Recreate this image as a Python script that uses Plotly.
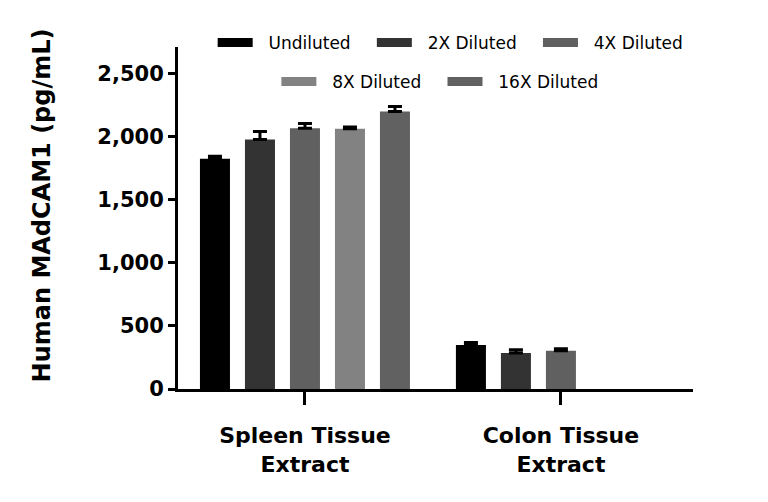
import plotly.graph_objects as go

categories = ["Spleen Tissue<br>Extract", "Colon Tissue<br>Extract"]
series_names = ["Undiluted", "2X Diluted", "4X Diluted", "8X Diluted", "16X Diluted"]
undiluted = [1825, 348]
dil_2x = [1978, 285]
dil_4x = [2067, 303]
dil_8x = [2062, None]
dil_16x = [2199, None]
err_undiluted = [20, 21]
err_2x = [63, 26]
err_4x = [37, 16]
err_8x = [15, None]
err_16x = [40, None]
y_ticks = [0, 500, 1000, 1500, 2000, 2500]
y_tick_labels = ["0", "500", "1,000", "1,500", "2,000", "2,500"]

values = [undiluted, dil_2x, dil_4x, dil_8x, dil_16x]
errors = [err_undiluted, err_2x, err_4x, err_8x, err_16x]
colors = ["#000000", "#333333", "#606060", "#828282", "#616161"]

fig = go.Figure()
for name, vals, errs, col in zip(series_names, values, errors, colors):
    fig.add_trace(go.Bar(
        x=categories, y=vals, name=name, marker=dict(color=col, line=dict(width=0)),
        showlegend=False,
        error_y=dict(type="data", array=[e if e is not None else 0 for e in errs],
                     arrayminus=[0, 0], symmetric=False, color="black", thickness=3, width=7),
    ))

# legend entries (thick line swatches)
pad = "&nbsp;&nbsp;"
for i, (name, col) in enumerate(zip(series_names, colors)):
    fig.add_trace(go.Scatter(
        x=[None], y=[None], mode="lines", name=pad + name + "&nbsp;&nbsp;&nbsp;",
        line=dict(color=col, width=9),
        legend="legend" if i < 3 else "legend2",
    ))

font_family = "DejaVu Sans"
legend_common = dict(orientation="h", xanchor="center", yanchor="middle",
                     font=dict(size=17, family=font_family, color="black"),
                     bgcolor="rgba(0,0,0,0)", traceorder="normal", itemwidth=35)
fig.update_layout(
    width=768, height=502,
    margin=dict(l=178, r=75, t=47, b=113),
    paper_bgcolor="white", plot_bgcolor="white",
    barmode="group", bargap=0.121, bargroupgap=0.333,
    font=dict(family=font_family, color="black"),
    legend=dict(x=0.545, y=1.012, **legend_common),
    legend2=dict(x=0.525, y=0.898, **legend_common),
)
fig.update_xaxes(
    range=[-0.496, 1.516], showline=True, linecolor="black", linewidth=3,
    ticks="outside", ticklen=13, tickwidth=3, tickcolor="black",
    tickfont=dict(size=22, family=font_family, color="black", weight="bold"),
    ticklabelstandoff=12,
    showgrid=False, zeroline=False,
)
fig.update_yaxes(
    range=[0, 2710], showline=True, linecolor="black", linewidth=3,
    tickmode="array", tickvals=y_ticks, ticktext=y_tick_labels,
    ticks="outside", ticklen=7, tickwidth=3, tickcolor="black",
    tickfont=dict(size=21, family=font_family, color="black", weight="bold"),
    title=dict(text="<b>&nbsp;&nbsp;&nbsp;Human MAdCAM1 (pg/mL)</b>", font=dict(size=24, family=font_family, color="black"), standoff=40),
    showgrid=False, zeroline=False,
)

fig.write_html("out.html")
